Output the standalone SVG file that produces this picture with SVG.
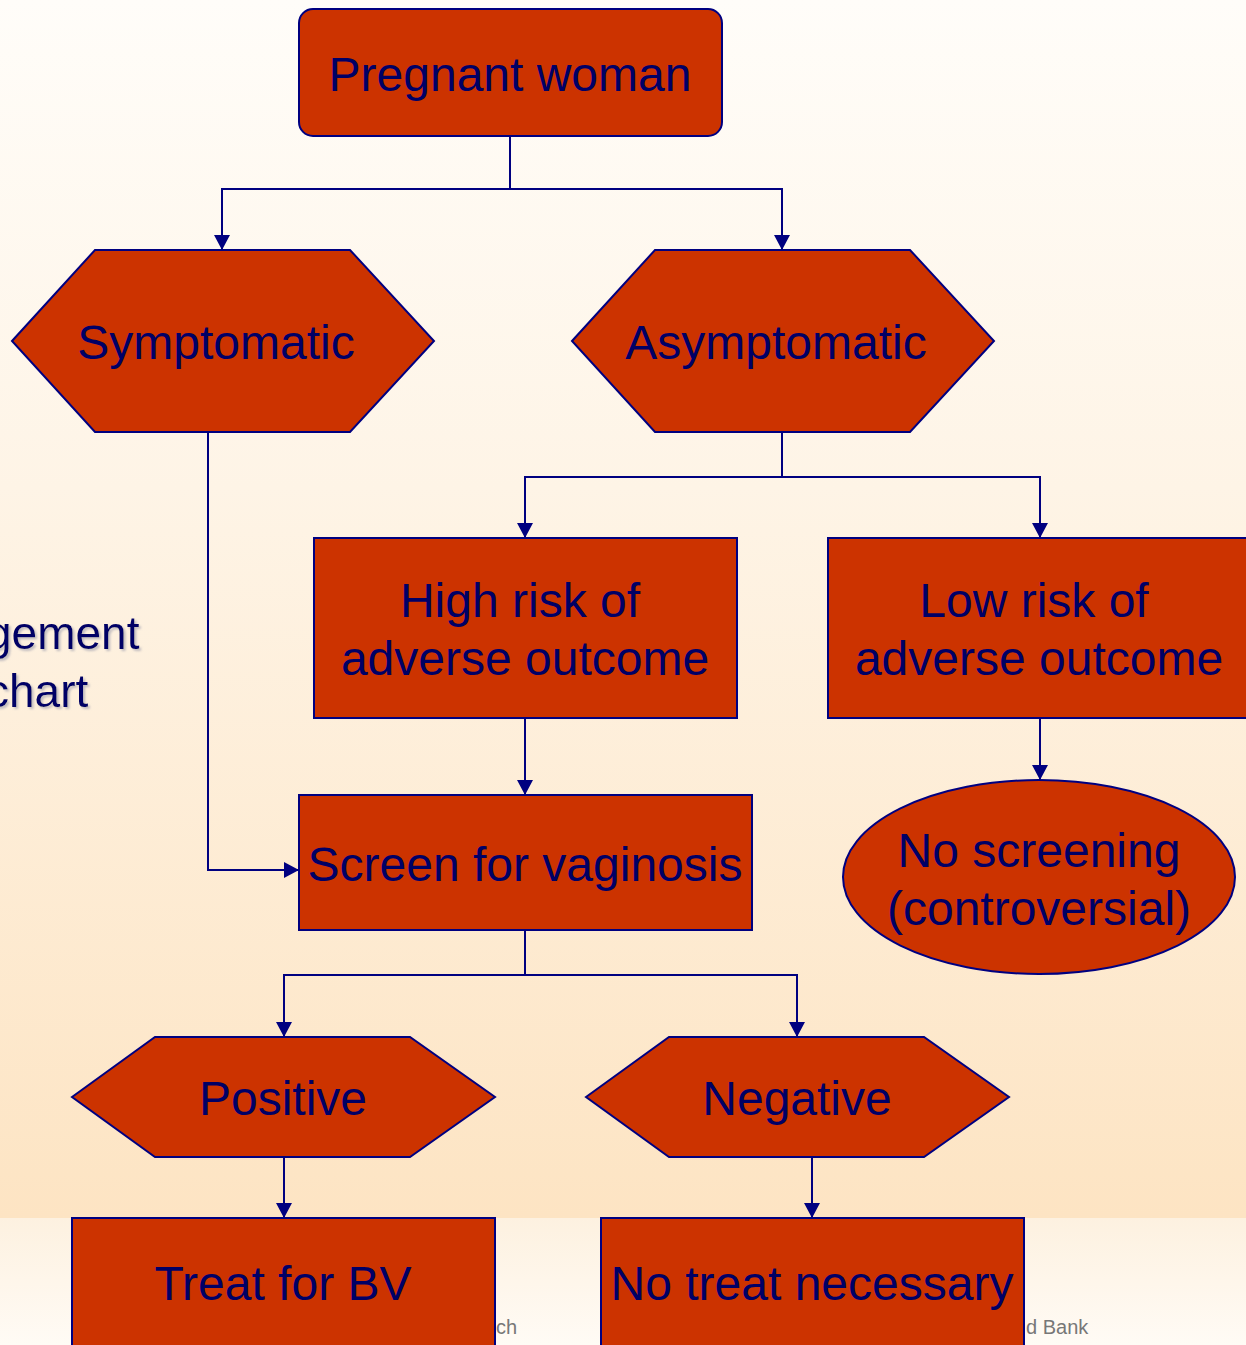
<svg xmlns="http://www.w3.org/2000/svg" width="1246" height="1345" viewBox="0 0 1246 1345">
<defs>
<linearGradient id="bg" x1="0" y1="0" x2="0" y2="1">
<stop offset="0" stop-color="#fffdf9"/>
<stop offset="0.4" stop-color="#fef4e6"/>
<stop offset="1" stop-color="#fde4c3"/>
</linearGradient>
<linearGradient id="bg2" x1="0" y1="0" x2="0" y2="1">
<stop offset="0" stop-color="#fdf1e0"/>
<stop offset="1" stop-color="#fffbf5"/>
</linearGradient>
<marker id="ar" markerWidth="15" markerHeight="16" refX="14" refY="8" orient="auto" markerUnits="userSpaceOnUse">
<path d="M0,0 L15,8 L0,16 Z" fill="#000080"/>
</marker>
<filter id="sh" x="-10%" y="-10%" width="130%" height="130%">
<feDropShadow dx="2" dy="2" stdDeviation="1" flood-color="#9999aa" flood-opacity="0.6"/>
</filter>
</defs>
<style>
.n{fill:#cc3300;stroke:#000080;stroke-width:2}
.t{font-family:"Liberation Sans",Arial,sans-serif;font-size:48px;fill:#000066;text-anchor:middle}
.c{fill:none;stroke:#000080;stroke-width:2}
.side{font-family:"Liberation Sans",Arial,sans-serif;font-size:46px;fill:#000066}
.ft{font-family:"Liberation Sans",Arial,sans-serif;font-size:20px;fill:#777777}
</style>
<rect x="0" y="0" width="1246" height="1218" fill="url(#bg)"/>
<rect x="0" y="1218" width="1246" height="127" fill="url(#bg2)"/>
<g filter="url(#sh)">
<text class="side" x="-14" y="649">gement</text>
<text class="side" x="-14" y="707">chart</text>
</g>
<text class="ft" x="496" y="1334">ch</text>
<text class="ft" x="1026" y="1334">d Bank</text>
<g id="connectors">
<path class="c" d="M510,136 V189 H222 V249" marker-end="url(#ar)"/>
<path class="c" d="M510,189 H782 V249" marker-end="url(#ar)"/>
<path class="c" d="M782,432 V477 H525 V537" marker-end="url(#ar)"/>
<path class="c" d="M782,477 H1040 V537" marker-end="url(#ar)"/>
<path class="c" d="M525,718 V794" marker-end="url(#ar)"/>
<path class="c" d="M208,432 V870 H298" marker-end="url(#ar)"/>
<path class="c" d="M1040,718 V779" marker-end="url(#ar)"/>
<path class="c" d="M525,930 V975 H284 V1036" marker-end="url(#ar)"/>
<path class="c" d="M525,975 H797 V1036" marker-end="url(#ar)"/>
<path class="c" d="M284,1157 V1217" marker-end="url(#ar)"/>
<path class="c" d="M812,1157 V1217" marker-end="url(#ar)"/>
</g>
<g id="pregnant">
<rect class="n" x="299" y="9" width="423" height="127" rx="14"/>
<text class="t" x="510" y="91">Pregnant woman</text>
</g>
<g id="symptomatic">
<polygon class="n" points="12,341 95,250 350,250 434,341 350,432 95,432"/>
<text class="t" x="216" y="359">Symptomatic</text>
</g>
<g id="asymptomatic">
<polygon class="n" points="572,341 655,250 910,250 994,341 910,432 655,432"/>
<text class="t" x="776" y="359">Asymptomatic</text>
</g>
<g id="highrisk">
<rect class="n" x="314" y="538" width="423" height="180"/>
<text class="t" x="520" y="617">High risk of</text>
<text class="t" x="525" y="675">adverse outcome</text>
</g>
<g id="lowrisk">
<rect class="n" x="828" y="538" width="430" height="180"/>
<text class="t" x="1034" y="617">Low risk of</text>
<text class="t" x="1039" y="675">adverse outcome</text>
</g>
<g id="screen">
<rect class="n" x="299" y="795" width="453" height="135"/>
<text class="t" x="525" y="881">Screen for vaginosis</text>
</g>
<g id="noscreening">
<ellipse class="n" cx="1039" cy="877" rx="196" ry="97"/>
<text class="t" x="1039" y="867">No screening</text>
<text class="t" x="1039" y="925">(controversial)</text>
</g>
<g id="positive">
<polygon class="n" points="72,1097 155,1037 410,1037 495,1097 410,1157 155,1157"/>
<text class="t" x="283" y="1115">Positive</text>
</g>
<g id="negative">
<polygon class="n" points="586,1097 669,1037 924,1037 1009,1097 924,1157 669,1157"/>
<text class="t" x="797" y="1115">Negative</text>
</g>
<g id="treat">
<rect class="n" x="72" y="1218" width="423" height="140"/>
<text class="t" x="283" y="1300">Treat for BV</text>
</g>
<g id="notreat">
<rect class="n" x="601" y="1218" width="423" height="140"/>
<text class="t" x="812" y="1300">No treat necessary</text>
</g>
</svg>
